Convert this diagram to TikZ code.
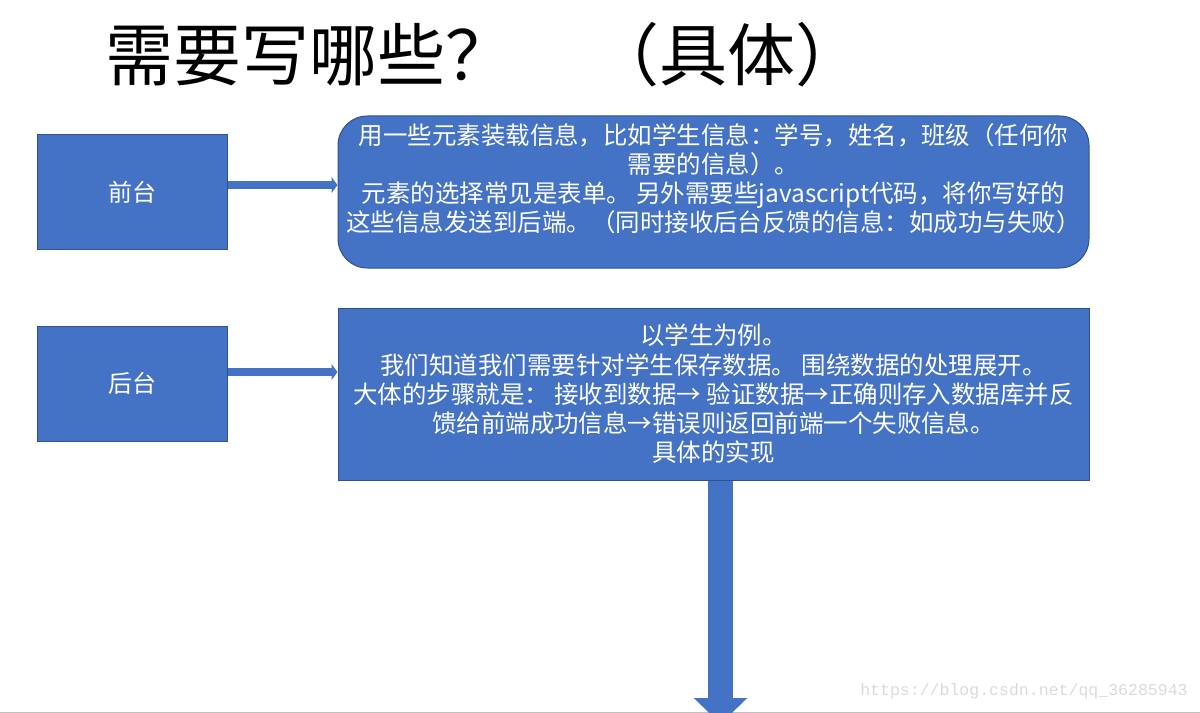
\documentclass[tikz,border=0pt]{standalone}
\usepackage{fontspec}
\setmainfont{Noto Sans CJK SC}
\newfontfamily\urlfont{Liberation Mono}
\usetikzlibrary{arrows.meta}
\definecolor{boxblue}{RGB}{68,114,196}
\definecolor{boxline}{RGB}{47,82,143}
\definecolor{markgray}{RGB}{218,218,214}
\begin{document}
\begin{tikzpicture}[x=0.75pt,y=0.75pt,yscale=-1,xscale=1,
  sidebox/.style={draw=boxline,fill=boxblue,line width=0.75pt,minimum width=142.5pt,minimum height=86.25pt,text=white,font=\fontsize{18pt}{21.75pt}\selectfont},
  infobox/.style={draw=boxline,fill=boxblue,line width=0.75pt,minimum width=563.25pt,inner sep=0pt,text=white,align=center,font=\fontsize{18.35pt}{21.9pt}\selectfont},
  thinarrow/.style={boxblue,line width=6pt,-{Triangle[length=4.5pt,width=12pt]}},
  bigarrow/.style={boxblue,line width=18.75pt,-{Triangle[length=19.5pt,width=39pt]}}]
\useasboundingbox (0,0) rectangle (1200,713);
%Straight Lines
\draw [color={rgb, 255:red, 192; green, 192; blue, 192 }] (0,712) -- (1200,712) ;
% Text Node
\node (title) [anchor=base west,inner sep=0pt,font=\fontsize{51pt}{60pt}\selectfont] at (105,81) {需要写哪些？\hspace{1.15em}（具体）};
%Shape: Rectangle
\node (qiantai) [sidebox] at (132,192.5) {前台};
%Shape: Rectangle
\node (houtai) [sidebox] at (132,383.5) {后台};
%Shape: Rounded Rect
\node (qtbox) [infobox,rounded corners=22pt,minimum height=114pt] at (713.5,192) {用一些元素装载信息，比如学生信息：学号，姓名，班级（任何你\\需要的信息）。\\元素的选择常见是表单。 另外需要些javascript代码，将你写好的\\这些信息发送到后端。（同时接收后台反馈的信息：如成功与失败）\\\mbox{}};
%Shape: Rectangle
\node (htbox) [infobox,minimum height=129pt] at (713.5,394) {以学生为例。\\我们知道我们需要针对学生保存数据。 围绕数据的处理展开。\\大体的步骤就是： 接收到数据→ 验证数据→正确则存入数据库并反\\馈给前端成功信息→错误则返回前端一个失败信息。\\具体的实现};
%Straight Lines
\draw [thinarrow] ([yshift=-5.6pt]qiantai.east) -- ([yshift=-5.6pt]qiantai.east -| qtbox.west) ;
%Straight Lines
\draw [thinarrow] ([yshift=-8.6pt]houtai.east) -- ([yshift=-8.6pt]houtai.east -| htbox.west) ;
%Straight Lines
\coordinate (down) at (720.5,724) ;
\draw [bigarrow] (htbox.south -| down) -- (down) ;
% Text Node
\node (mark) [anchor=base west,inner sep=0pt,text=markgray,font=\urlfont\fontsize{12.4pt}{14pt}\selectfont] at (860,695) {https://blog.csdn.net/qq\_36285943};
\end{tikzpicture}
\end{document}
